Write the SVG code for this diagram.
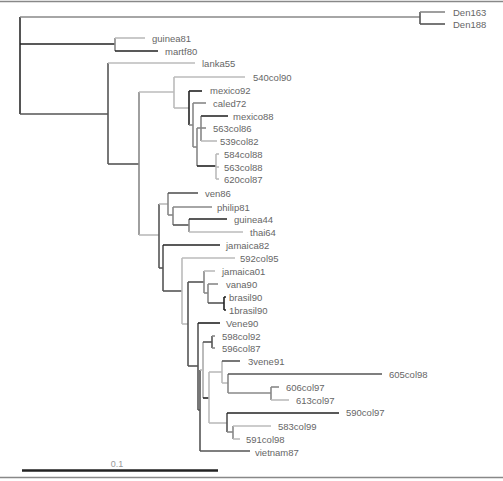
<svg xmlns="http://www.w3.org/2000/svg" width="503" height="481" viewBox="0 0 503 481">
<style>
.b line{stroke-width:1.6;fill:none}
.k{stroke:#222}.d{stroke:#555}.m{stroke:#888}.l{stroke:#bbb}
text{font-family:"Liberation Sans",Arial,sans-serif;font-size:9.5px;fill:#666}
.fr{stroke:#888;stroke-width:1.5}
</style>
<rect width="503" height="481" fill="#fff"/>
<line class="fr" x1="0" y1="1.5" x2="503" y2="1.5"/>
<line class="fr" x1="0" y1="477.5" x2="503" y2="477.5"/>
<g id="connectors" class="b">
<line class="d" x1="20" y1="17" x2="20" y2="114" style="stroke-width:2"/>
<line class="m" x1="20" y1="17" x2="420" y2="17"/>
<line class="k" x1="20" y1="44" x2="115" y2="44"/>
<line class="d" x1="20" y1="114" x2="108" y2="114"/>
<line class="d" x1="420" y1="12" x2="420" y2="24"/>
<line class="m" x1="420" y1="12" x2="445" y2="12"/>
<line class="d" x1="420" y1="24" x2="445" y2="24"/>
<line class="m" x1="115" y1="38" x2="115" y2="51"/>
<line class="l" x1="115" y1="38" x2="145" y2="38"/>
<line class="k" x1="115" y1="51" x2="158" y2="51"/>
<line class="d" x1="108" y1="63" x2="108" y2="164"/>
<line class="l" x1="108" y1="63" x2="195" y2="63"/>
<line class="d" x1="108" y1="164" x2="139" y2="164"/>
<line class="m" x1="139" y1="92" x2="139" y2="235"/>
<line class="l" x1="139" y1="92" x2="174" y2="92"/>
<line class="l" x1="139" y1="235" x2="159" y2="235"/>
<line class="l" x1="174" y1="77" x2="174" y2="108"/>
<line class="l" x1="174" y1="77" x2="245" y2="77"/>
<line class="l" x1="174" y1="108" x2="189" y2="108"/>
<line class="k" x1="189" y1="91" x2="189" y2="125"/>
<line class="k" x1="189" y1="91" x2="202" y2="91"/>
<line class="m" x1="189" y1="125" x2="193" y2="125"/>
<line class="m" x1="193" y1="103" x2="193" y2="147"/>
<line class="m" x1="193" y1="103" x2="206" y2="103"/>
<line class="m" x1="193" y1="147" x2="197" y2="147"/>
<line class="m" x1="197" y1="128" x2="197" y2="166"/>
<line class="m" x1="197" y1="128" x2="201" y2="128"/>
<line class="k" x1="197" y1="166" x2="216" y2="166"/>
<line class="m" x1="201" y1="116" x2="201" y2="141"/>
<line class="d" x1="201" y1="116" x2="228" y2="116" style="stroke-width:2"/>
<line class="m" x1="201" y1="128" x2="206" y2="128"/>
<line class="l" x1="201" y1="141" x2="217" y2="141"/>
<line class="l" x1="216" y1="154" x2="216" y2="179"/>
<line class="l" x1="216" y1="154" x2="219" y2="154"/>
<line class="l" x1="216" y1="167" x2="219" y2="167"/>
<line class="l" x1="216" y1="179" x2="219" y2="179"/>
<line class="d" x1="159" y1="204" x2="159" y2="268"/>
<line class="l" x1="159" y1="204" x2="168" y2="204"/>
<line class="d" x1="159" y1="268" x2="163" y2="268"/>
<line class="m" x1="168" y1="193" x2="168" y2="215"/>
<line class="d" x1="168" y1="193" x2="198" y2="193"/>
<line class="m" x1="168" y1="215" x2="173" y2="215"/>
<line class="m" x1="173" y1="207" x2="173" y2="225"/>
<line class="m" x1="173" y1="207" x2="212" y2="207"/>
<line class="d" x1="173" y1="225" x2="189" y2="225"/>
<line class="m" x1="189" y1="219" x2="189" y2="232"/>
<line class="k" x1="189" y1="219" x2="227" y2="219"/>
<line class="l" x1="189" y1="232" x2="243" y2="232"/>
<line class="d" x1="163" y1="245" x2="163" y2="291"/>
<line class="k" x1="163" y1="245" x2="220" y2="245"/>
<line class="d" x1="163" y1="291" x2="182" y2="291"/>
<line class="l" x1="182" y1="258" x2="182" y2="324"/>
<line class="l" x1="182" y1="258" x2="235" y2="258"/>
<line class="l" x1="182" y1="324" x2="188" y2="324"/>
<line class="d" x1="188" y1="282" x2="188" y2="366"/>
<line class="d" x1="188" y1="282" x2="204" y2="282"/>
<line class="d" x1="188" y1="366" x2="198" y2="366"/>
<line class="m" x1="204" y1="271" x2="204" y2="293"/>
<line class="l" x1="204" y1="271" x2="215" y2="271"/>
<line class="m" x1="204" y1="293" x2="208" y2="293"/>
<line class="m" x1="208" y1="284" x2="208" y2="303"/>
<line class="m" x1="208" y1="284" x2="218" y2="284"/>
<line class="d" x1="208" y1="303" x2="224" y2="303"/>
<line class="k" x1="224" y1="297" x2="224" y2="310"/>
<line class="k" x1="224" y1="297" x2="226" y2="297"/>
<line class="k" x1="224" y1="310" x2="226" y2="310"/>
<line class="d" x1="198" y1="323" x2="198" y2="410"/>
<line class="k" x1="198" y1="323" x2="220" y2="323"/>
<line class="d" x1="198" y1="410" x2="200" y2="410"/>
<line class="d" x1="200" y1="370" x2="200" y2="451"/>
<line class="l" x1="200" y1="370" x2="203" y2="370"/>
<line class="d" x1="200" y1="451" x2="250" y2="451"/>
<line class="l" x1="203" y1="342" x2="203" y2="398" style="stroke-width:2"/>
<line class="d" x1="203" y1="342" x2="212" y2="342"/>
<line class="k" x1="203" y1="398" x2="209" y2="398"/>
<line class="d" x1="212" y1="336" x2="212" y2="348"/>
<line class="m" x1="212" y1="336" x2="215" y2="336"/>
<line class="m" x1="212" y1="348" x2="215" y2="348"/>
<line class="l" x1="209" y1="372" x2="209" y2="423"/>
<line class="l" x1="209" y1="372" x2="222" y2="372"/>
<line class="l" x1="209" y1="423" x2="227" y2="423"/>
<line class="l" x1="222" y1="361" x2="222" y2="383"/>
<line class="d" x1="222" y1="361" x2="240" y2="361"/>
<line class="l" x1="222" y1="383" x2="228" y2="383"/>
<line class="m" x1="228" y1="374" x2="228" y2="393"/>
<line class="d" x1="228" y1="374" x2="382" y2="374"/>
<line class="m" x1="228" y1="393" x2="271" y2="393"/>
<line class="m" x1="271" y1="387" x2="271" y2="400"/>
<line class="m" x1="271" y1="387" x2="279" y2="387"/>
<line class="l" x1="271" y1="400" x2="289" y2="400"/>
<line class="d" x1="227" y1="413" x2="227" y2="432"/>
<line class="k" x1="227" y1="413" x2="339" y2="413"/>
<line class="m" x1="227" y1="432" x2="233" y2="432"/>
<line class="m" x1="233" y1="426" x2="233" y2="439"/>
<line class="l" x1="233" y1="426" x2="271" y2="426"/>
<line class="l" x1="233" y1="439" x2="240" y2="439"/>
</g>
<g id="Den163"><text x="453" y="15.5">Den163</text></g>
<g id="Den188"><text x="453" y="27.5">Den188</text></g>
<g id="guinea81"><text x="152" y="41.5">guinea81</text></g>
<g id="martf80"><text x="165" y="54.5">martf80</text></g>
<g id="lanka55"><text x="202" y="66.5">lanka55</text></g>
<g id="c540col90"><text x="253" y="80.5">540col90</text></g>
<g id="mexico92"><text x="210" y="93.5">mexico92</text></g>
<g id="caled72"><text x="213" y="106.5">caled72</text></g>
<g id="mexico88"><text x="233" y="119.5">mexico88</text></g>
<g id="c563col86"><text x="213" y="131.5">563col86</text></g>
<g id="c539col82"><text x="220" y="144.5">539col82</text></g>
<g id="c584col88"><text x="224" y="157.5">584col88</text></g>
<g id="c563col88"><text x="224" y="170.5">563col88</text></g>
<g id="c620col87"><text x="224" y="182.5">620col87</text></g>
<g id="ven86"><text x="205" y="196.5">ven86</text></g>
<g id="philip81"><text x="217" y="210.5">philip81</text></g>
<g id="guinea44"><text x="234" y="222.5">guinea44</text></g>
<g id="thai64"><text x="250" y="235.5">thai64</text></g>
<g id="jamaica82"><text x="226" y="248.5">jamaica82</text></g>
<g id="c592col95"><text x="240" y="261.5">592col95</text></g>
<g id="jamaica01"><text x="222" y="274.5">jamaica01</text></g>
<g id="vana90"><text x="226" y="287.5">vana90</text></g>
<g id="brasil90"><text x="229" y="300.5">brasil90</text></g>
<g id="c1brasil90"><text x="229" y="313.5">1brasil90</text></g>
<g id="Vene90"><text x="226" y="326.5">Vene90</text></g>
<g id="c598col92"><text x="222" y="339.5">598col92</text></g>
<g id="c596col87"><text x="222" y="351.5">596col87</text></g>
<g id="c3vene91"><text x="248" y="364.5">3vene91</text></g>
<g id="c605col98"><text x="389" y="377.5">605col98</text></g>
<g id="c606col97"><text x="286" y="390.5">606col97</text></g>
<g id="c613col97"><text x="296" y="403.5">613col97</text></g>
<g id="c590col97"><text x="346" y="415.5">590col97</text></g>
<g id="c583col99"><text x="278" y="429.5">583col99</text></g>
<g id="c591col98"><text x="246" y="442.5">591col98</text></g>
<g id="vietnam87"><text x="255" y="455.5">vietnam87</text></g>
<g id="scale">
<line x1="22" y1="470.5" x2="218" y2="470.5" stroke="#222" stroke-width="2.5"/>
<text x="117" y="467" text-anchor="middle" style="fill:#999;font-size:9px">0.1</text>
</g>
</svg>
